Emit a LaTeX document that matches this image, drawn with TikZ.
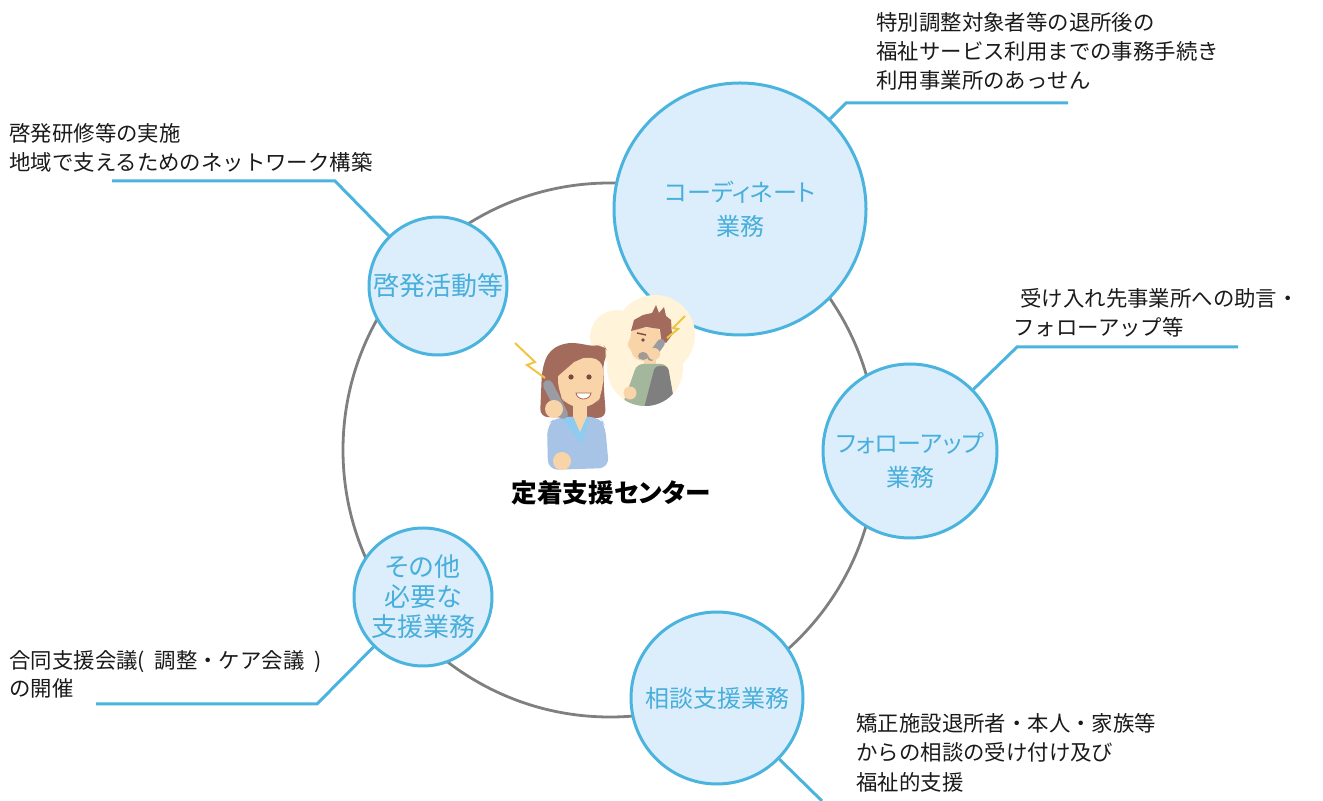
\documentclass[tikz,border=0pt]{standalone}
\usepackage{fontspec}
\setmainfont{Noto Sans CJK JP}
\newfontfamily\paltfont{Noto Sans CJK JP}[RawFeature=+palt]

\definecolor{lineblue}{HTML}{4BB4DE}
\definecolor{bubblefill}{HTML}{DCEEFB}
\definecolor{textblue}{HTML}{48AEDB}
\definecolor{ringgrey}{HTML}{7F7F7F}
\definecolor{notegray}{HTML}{1A1A1A}
\definecolor{cream}{HTML}{FFF4D9}
\definecolor{skin}{HTML}{F9D4A8}
\definecolor{hair}{HTML}{A26B5B}
\definecolor{eye}{HTML}{7A4A3E}
\definecolor{phone}{HTML}{9B9BA3}
\definecolor{shirtgreen}{HTML}{A2B79B}
\definecolor{vest}{HTML}{7F7F7F}
\definecolor{stubble}{HTML}{A39A96}
\definecolor{blouse}{HTML}{A7C4E6}
\definecolor{collar}{HTML}{8FCBF0}
\definecolor{bolt}{HTML}{F0C542}
\definecolor{mouth}{HTML}{B0614F}

\begin{document}
\begin{tikzpicture}[x=0.5pt, y=-0.5pt,
    ring_style/.style = {draw=ringgrey, line width=1.4pt, circle, minimum size=267pt},
    circle_style/.style = {draw=lineblue, fill=bubblefill, line width=1.5pt, circle, inner sep=0pt, align=center, text=textblue},
    line_style/.style = {draw=lineblue, line width=1.5pt},
    note_style/.style = {anchor=north west, inner sep=0pt, align=left, text=notegray, font=\fontsize{10.7pt}{14.5pt}\selectfont}]

\useasboundingbox (0,0) rectangle (1323,801);

% big ring behind the five tasks
\node[ring_style] (0) at (610,450) {};

% the five tasks
\node[circle_style, minimum size=69pt, font=\paltfont\fontsize{13pt}{15pt}\selectfont] (1) at (438,286) {啓発活動等};
\node[circle_style, minimum size=126pt, font=\paltfont\fontsize{12pt}{17pt}\selectfont] (2) at (740,209) {コーディネート\\業務};
\node[circle_style, minimum size=87pt,
    label={[align=center, text=textblue, font=\paltfont\fontsize{12pt}{17pt}\selectfont, yshift=-4.5pt]center:{フォローアップ\\業務}}] (3) at (910,451) {};
\node[circle_style, minimum size=86pt, font=\paltfont\fontsize{12pt}{15pt}\selectfont] (4) at (717,698) {相談支援業務};
\node[circle_style, minimum size=69pt, font=\paltfont\fontsize{13pt}{15pt}\selectfont] (5) at (423,597) {その他\\必要な\\支援業務};

% notes
\node[note_style] (1t) at (9,123) {啓発研修等の実施\\地域で支えるためのネットワーク構築};
\node[note_style] (2t) at (876,12) {特別調整対象者等の退所後の\\福祉サービス利用までの事務手続き\\利用事業所のあっせん};
\node[note_style] (3t) at (1013,288) {\hspace*{3.5pt}受け入れ先事業所への助言・\\フォローアップ等};
\node[note_style, font=\fontsize{10.7pt}{14.75pt}\selectfont] (4t) at (856,713) {矯正施設退所者・本人・家族等\\からの相談の受け付け及び\\福祉的支援};
\node[note_style, font=\fontsize{10.7pt}{14pt}\selectfont] (5t) at (9,650) {合同支援会議(\ \ 調整・ケア会議\ \ )\\の開催};

% leader lines
\coordinate (1a) at (335,181);
\coordinate (1b) at (112,181);
\coordinate (2a) at (846,103);
\coordinate (2b) at (1068,103);
\coordinate (3a) at (1017,347);
\coordinate (3b) at (1238,347);
\coordinate (4a) at (822,801);
\coordinate (5a) at (317,704);
\coordinate (5b) at (96,704);

\draw[line_style] (1) -- (1a) -- (1b);
\draw[line_style] (2) -- (2a) -- (2b);
\draw[line_style] (3) -- (3a) -- (3b);
\draw[line_style] (4) -- (4a);
\draw[line_style] (5) -- (5a) -- (5b);

% man on the phone, inside his bubble
\fill[cream] (617,337) circle (27) (655,335) circle (40) (645,368) circle (38);
\begin{scope}
\clip (617,337) circle (27) (655,335) circle (40) (645,368) circle (38);
\fill[skin] (644,355) rectangle (656,368);
\fill[shirtgreen, rounded corners=3pt] (637,364) -- (667,364) -- (676,412) -- (620,412) -- cycle;
\fill[vest, rounded corners=2pt] (655,366) -- (668,366) -- (676,412) -- (643,412) -- cycle;
\fill[skin] (630,393) circle (6.5);
\fill[skin, rounded corners=2pt] (632,328) -- (630,340) -- (626,346) -- (631,348) -- (632,356) -- (640,361) -- (652,361) -- (660,352) -- (660,328) -- cycle;
\fill[stubble] (643,356) ellipse (5 and 4);
\fill[hair] (631,331) -- (634,320) -- (643,315) -- (652,313) -- (656,305) -- (659,313) -- (664,307) -- (666,316) -- (671,320) -- (672,335) -- (666,343) -- (661,339) -- (660,329) -- (646,327) -- cycle;
\draw[eye, line width=0.7pt] (637,333) -- (646,335);
\fill[eye] (643,340) circle (1.8);
\draw[phone, line width=4pt, line cap=round] (651,357) -- (661,343);
\fill[skin] (654,354) circle (6);
\end{scope}
\draw[bolt, line width=1pt] (685,316) -- (673,328) -- (678,329) -- (667,338);

% woman on the phone
\fill[hair, rounded corners=4pt] (540,417) -- (542,370) -- (548,352) -- (563,343) -- (580,343) -- (593,347) -- (603,344) -- (608,352) -- (603,362) -- (604,390) -- (606,418) -- cycle;
\fill[blouse, rounded corners=5pt] (548,470) -- (547,425) -- (556,417) -- (600,417) -- (605,425) -- (609,468) -- cycle;
\fill[collar] (560,417) -- (590,417) -- (582,444) -- cycle;
\fill[skin] (573,400) rectangle (587,417);
\fill[skin] (573,416) -- (587,416) -- (580,432) -- cycle;
\fill[skin, rounded corners=6pt] (558,358) -- (558,392) -- (567,407) -- (595,407) -- (603,392) -- (603,358) -- cycle;
\fill[hair] (556,350) -- (558,376) -- (574,362) -- (590,355) -- (598,352) -- (603,366) -- (605,350) -- (590,346) -- cycle;
\fill[eye] (571,377) circle (2.6) (589,377) circle (2.6);
\filldraw[fill=white, draw=mouth, line width=0.4pt] (576,393) .. controls (577,401) and (590,401) .. (591,393) -- cycle;
\draw[phone, line width=5pt, line cap=round] (548,385) -- (563,414);
\fill[skin] (554,409) circle (9);
\fill[skin] (562,461) circle (9);
\draw[bolt, line width=1pt] (515,343) -- (535,362) -- (527,365) -- (545,378);

\node[font=\paltfont\bfseries\fontsize{12.8pt}{14pt}\selectfont, text=black] (6) at (611,493) {定着支援センター};

\end{tikzpicture}
\end{document}
